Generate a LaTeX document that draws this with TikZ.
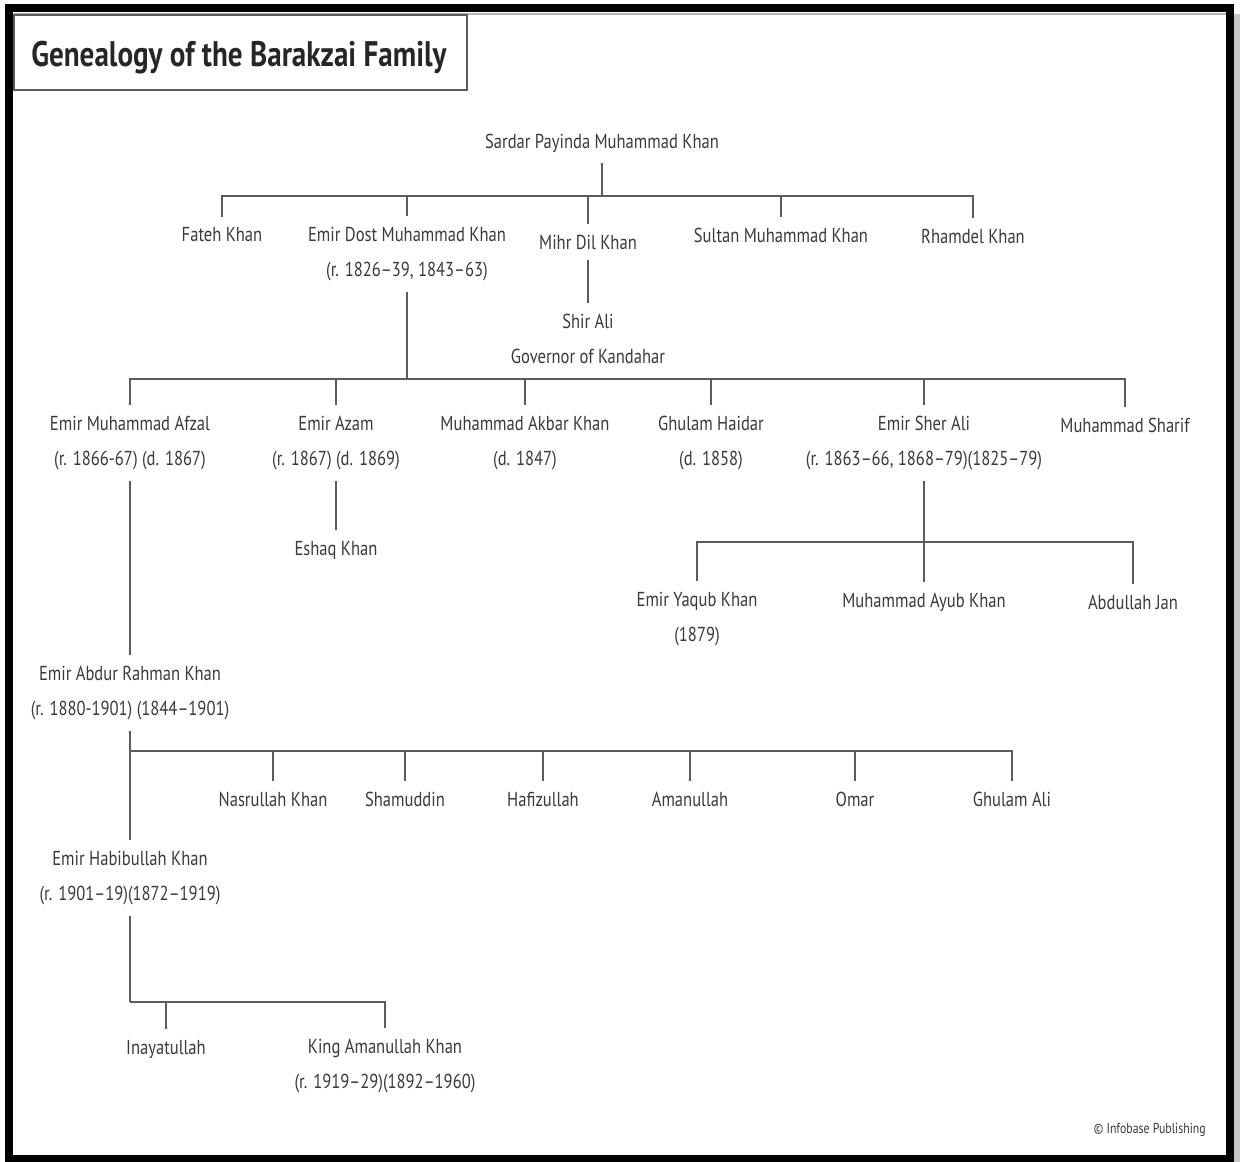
\documentclass[tikz,border=0pt]{standalone}
\usepackage{fontspec}
\setmainfont{PT Sans}[FakeStretch=0.82]
\definecolor{ink}{HTML}{3A3A3A}
\definecolor{rule}{HTML}{5C5C5C}

\begin{document}
\begin{tikzpicture}[x=0.02cm,y=-0.02cm,
    person/.style={font=\fontsize{11.5}{19.9}\selectfont,text=ink,align=center,inner xsep=2pt,inner ysep=6pt},
    kin/.style={draw=rule,line width=1.1pt}]
  \useasboundingbox (0,0) rectangle (1241,1162);

  % Frame
  \fill[gray!45] (1233,14) rectangle (1240,1162);
  \draw[gray!60,line width=0.8pt] (14,14) -- (1227,14);
  \draw[line width=4pt] (9,8) rectangle (1230,1159);
  \draw[rule,line width=0.9pt] (14,15) rectangle (467,90);
  \node[font=\fontsize{20.2}{23}\selectfont\bfseries,text=black!85] (title) at (239,58) {Genealogy of the Barakzai Family};

  % Persons
  \node[person] (root) at (602,143) {Sardar Payinda Muhammad Khan};
  \node[person] (fateh) at (222,235) {Fateh Khan};
  \node[person] (dost) at (407,254) {Emir Dost Muhammad Khan\\(r. 1826--39, 1843--63)};
  \node[person] (mihr) at (588,242) {Mihr Dil Khan};
  \node[person] (sultan) at (781,235) {Sultan Muhammad Khan};
  \node[person] (rhamdel) at (973,236) {Rhamdel Khan};
  \node[person] (shir) at (588,339) {Shir Ali\\Governor of Kandahar};

  \node[person] (afzal) at (130,443) {Emir Muhammad Afzal\\(r. 1866-67) (d. 1867)};
  \node[person] (azam) at (336,443) {Emir Azam\\(r. 1867) (d. 1869)};
  \node[person] (akbar) at (525,443) {Muhammad Akbar Khan\\(d. 1847)};
  \node[person] (haidar) at (711,443) {Ghulam Haidar\\(d. 1858)};
  \node[person] (sherali) at (924,443) {Emir Sher Ali\\(r. 1863--66, 1868--79)(1825--79)};
  \node[person] (sharif) at (1125,425) {Muhammad Sharif};
  \node[person] (eshaq) at (336,550) {Eshaq Khan};

  \node[person] (yaqub) at (697,619) {Emir Yaqub Khan\\(1879)};
  \node[person] (ayub) at (924,602) {Muhammad Ayub Khan};
  \node[person] (abdullah) at (1133,602) {Abdullah Jan};

  \node[person] (abdur) at (130,693) {Emir Abdur Rahman Khan\\(r. 1880-1901) (1844--1901)};
  \node[person] (nasrullah) at (273,799) {Nasrullah Khan};
  \node[person] (shamuddin) at (405,799) {Shamuddin};
  \node[person] (hafiz) at (543,799) {Hafizullah};
  \node[person] (amanullah) at (690,799) {Amanullah};
  \node[person] (omar) at (855,799) {Omar};
  \node[person] (ghulamali) at (1012,799) {Ghulam Ali};

  \node[person] (habib) at (130,878) {Emir Habibullah Khan\\(r. 1901--19)(1872--1919)};
  \node[person] (inayat) at (166,1049) {Inayatullah};
  \node[person] (king) at (385,1066) {King Amanullah Khan\\(r. 1919--29)(1892--1960)};

  \node[font=\fontsize{8.2}{10}\selectfont,text=ink,anchor=east] (credit) at (1212,1130) {© Infobase Publishing};

  % Bars
  \coordinate (b1) at (602,196);
  \coordinate (b2) at (407,379);
  \coordinate (b3) at (924,542);
  \coordinate (b4) at (130,751);
  \coordinate (b5) at (130,1002);

  % Lines
  \draw[kin] (root.south) -- (b1);
  \foreach \c in {fateh,dost,mihr,sultan,rhamdel}
    \draw[kin] (b1) -| (\c.north);
  \draw[kin] (mihr.south) -- (shir.north);

  \draw[kin] (dost.south) -- (b2);
  \foreach \c in {afzal,azam,akbar,haidar,sherali,sharif}
    \draw[kin] (b2) -| (\c.north);
  \draw[kin] (azam.south) -- (eshaq.north);

  \draw[kin] (sherali.south) -- (b3);
  \foreach \c in {yaqub,ayub,abdullah}
    \draw[kin] (b3) -| (\c.north);

  \draw[kin] (afzal.south) -- (abdur.north);
  \draw[kin] (abdur.south) -- (habib.north);
  \foreach \c in {nasrullah,shamuddin,hafiz,amanullah,omar,ghulamali}
    \draw[kin] (b4) -| (\c.north);

  \draw[kin] (habib.south) -- (b5);
  \foreach \c in {inayat,king}
    \draw[kin] (b5) -| (\c.north);

\end{tikzpicture}
\end{document}
